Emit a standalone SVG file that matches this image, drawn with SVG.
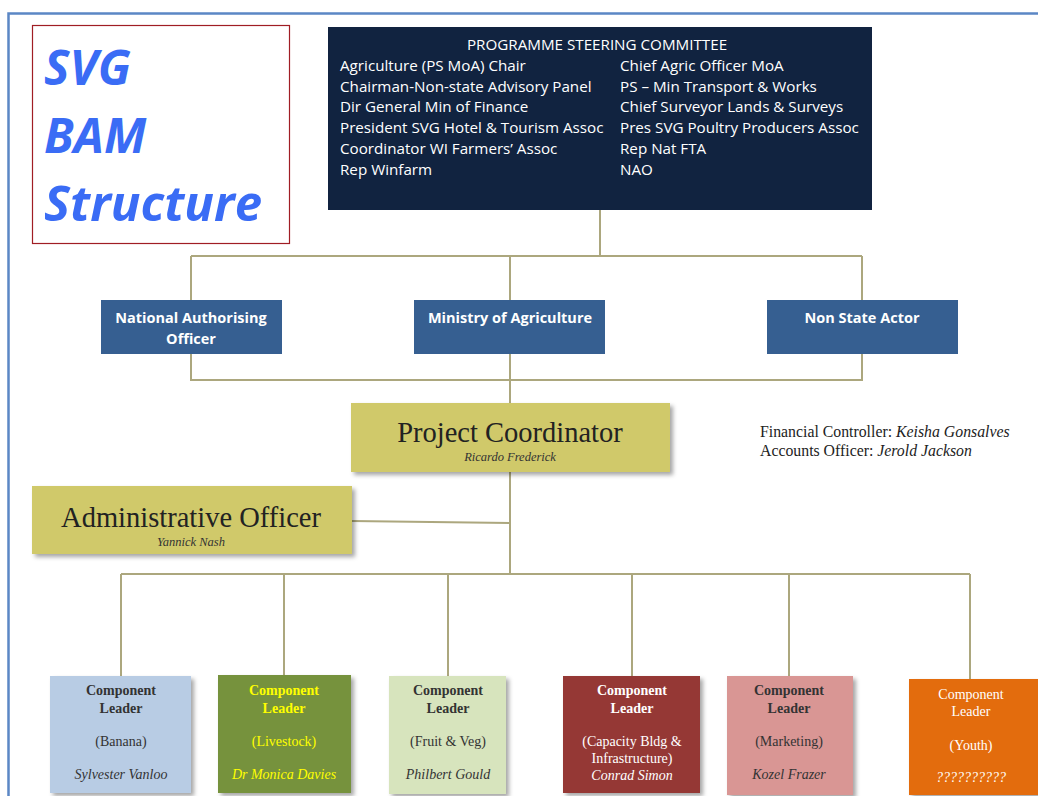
<svg xmlns="http://www.w3.org/2000/svg" width="1038" height="796" viewBox="0 0 1038 796">
<defs>
<filter id="sh" x="-10%" y="-10%" width="130%" height="140%">
<feDropShadow dx="3" dy="3" stdDeviation="2" flood-color="#000" flood-opacity="0.35"/>
</filter>
<style>
.ln{stroke:#aca77e;stroke-width:2;fill:none}
.psc{font-family:"Open Sans","Noto Sans",sans-serif;font-size:15.2px;fill:#fff}
.blue{fill:#365f91}
.bt{font-family:"Open Sans","Noto Sans",sans-serif;font-size:14.5px;font-weight:bold;fill:#fff;text-anchor:middle}
.big{font-family:"Liberation Serif",serif;font-size:28.5px;fill:#222;text-anchor:middle}
.sm{font-family:"Liberation Serif",serif;font-size:12.5px;font-style:italic;fill:#333;text-anchor:middle}
.cl{font-family:"Liberation Serif",serif;font-size:14px;text-anchor:middle}
.b{font-weight:bold}
.i{font-style:italic}
.fin{font-family:"Liberation Serif",serif;font-size:15.8px;fill:#222}
</style>
</defs>
<rect width="1038" height="796" fill="#fff"/>
<path d="M8.5 800 V13.5 H1040" fill="none" stroke="#5b87c5" stroke-width="2.5"/>

<g id="title">
<rect x="32.5" y="25.5" width="257" height="218" fill="#fff" stroke="#a01d24" stroke-width="1.2"/>
<g font-family="'Open Sans','Noto Sans',sans-serif" font-weight="bold" font-style="italic" fill="#3a6cf5" font-size="48">
<text x="44" y="85">SVG</text>
<text x="44" y="153">BAM</text>
<text x="44" y="221" textLength="218" lengthAdjust="spacingAndGlyphs">Structure</text>
</g>
</g>

<g id="connectors">
<path class="ln" d="M600 210 V256 M191 256 H862 M191 256 V300 M510 256 V300 M862 256 V300"/>
<path class="ln" d="M191 354 V380 H862 V354 M510 354 V403"/>
<path class="ln" d="M510 472 V574 M352 521 L510 523"/>
<path class="ln" d="M121 574 H970 M121 574 V676 M284 574 V675 M448 574 V676 M632 574 V676 M789 574 V676 M970 574 V679"/>
</g>

<g id="psc">
<rect x="328" y="27" width="544" height="183" fill="#112340"/>
<text class="psc" x="597" y="50" text-anchor="middle" font-size="15">PROGRAMME STEERING COMMITTEE</text>
<text class="psc" x="340" y="71">Agriculture (PS MoA) Chair</text>
<text class="psc" x="340" y="92">Chairman-Non-state Advisory Panel</text>
<text class="psc" x="340" y="112">Dir General Min of Finance</text>
<text class="psc" x="340" y="133">President SVG Hotel &amp; Tourism Assoc</text>
<text class="psc" x="340" y="154">Coordinator WI Farmers’ Assoc</text>
<text class="psc" x="340" y="175">Rep Winfarm</text>
<text class="psc" x="620" y="71">Chief Agric Officer MoA</text>
<text class="psc" x="620" y="92">PS – Min Transport &amp; Works</text>
<text class="psc" x="620" y="112">Chief Surveyor Lands &amp; Surveys</text>
<text class="psc" x="620" y="133">Pres SVG Poultry Producers Assoc</text>
<text class="psc" x="620" y="154">Rep Nat FTA</text>
<text class="psc" x="620" y="175">NAO</text>
</g>

<g id="nao">
<rect class="blue" x="101" y="300" width="181" height="54"/>
<text class="bt" x="191" y="323">National Authorising</text>
<text class="bt" x="191" y="344">Officer</text>
</g>
<g id="moa">
<rect class="blue" x="414" y="300" width="191" height="54"/>
<text class="bt" x="510" y="323">Ministry of Agriculture</text>
</g>
<g id="nsa">
<rect class="blue" x="767" y="300" width="191" height="54"/>
<text class="bt" x="862" y="323">Non State Actor</text>
</g>

<g id="pc">
<rect x="351" y="403" width="319" height="69" fill="#d0c96b" filter="url(#sh)"/>
<text class="big" x="510" y="442">Project Coordinator</text>
<text class="sm" x="510" y="461">Ricardo Frederick</text>
</g>

<g id="fin">
<text class="fin" x="760" y="437">Financial Controller: <tspan font-style="italic">Keisha Gonsalves</tspan></text>
<text class="fin" x="760" y="456">Accounts Officer: <tspan font-style="italic">Jerold Jackson</tspan></text>
</g>

<g id="ao">
<rect x="32" y="486" width="320" height="68" fill="#d0c96b" filter="url(#sh)"/>
<text class="big" x="191" y="527">Administrative Officer</text>
<text class="sm" x="191" y="546">Yannick Nash</text>
</g>

<g id="c1">
<rect x="50" y="676" width="141" height="117" fill="#b8cce4" filter="url(#sh)"/>
<g class="cl" fill="#333">
<text class="b" x="121" y="695">Component</text>
<text class="b" x="121" y="713">Leader</text>
<text x="121" y="746">(Banana)</text>
<text class="i" x="121" y="779">Sylvester Vanloo</text>
</g>
</g>
<g id="c2">
<rect x="218" y="675" width="133" height="118" fill="#76923c" filter="url(#sh)"/>
<g class="cl" fill="#ffff00">
<text class="b" x="284" y="695">Component</text>
<text class="b" x="284" y="713">Leader</text>
<text x="284" y="746">(Livestock)</text>
<text class="i" x="284" y="779">Dr Monica Davies</text>
</g>
</g>
<g id="c3">
<rect x="389" y="676" width="117" height="118" fill="#d7e4bd" filter="url(#sh)"/>
<g class="cl" fill="#333">
<text class="b" x="448" y="695">Component</text>
<text class="b" x="448" y="713">Leader</text>
<text x="448" y="746">(Fruit &amp; Veg)</text>
<text class="i" x="448" y="779">Philbert Gould</text>
</g>
</g>
<g id="c4">
<rect x="563" y="676" width="137" height="117" fill="#953735" filter="url(#sh)"/>
<g class="cl" fill="#fff">
<text class="b" x="632" y="695">Component</text>
<text class="b" x="632" y="713">Leader</text>
<text x="632" y="746">(Capacity Bldg &amp;</text>
<text x="632" y="763">Infrastructure)</text>
<text class="i" x="632" y="780">Conrad Simon</text>
</g>
</g>
<g id="c5">
<rect x="727" y="676" width="126" height="119" fill="#d99694" filter="url(#sh)"/>
<g class="cl" fill="#333">
<text class="b" x="789" y="695">Component</text>
<text class="b" x="789" y="713">Leader</text>
<text x="789" y="746">(Marketing)</text>
<text class="i" x="789" y="779">Kozel Frazer</text>
</g>
</g>
<g id="c6">
<rect x="909" y="679" width="135" height="116" fill="#e36c0a" filter="url(#sh)"/>
<g class="cl" fill="#fff">
<text x="971" y="699">Component</text>
<text x="971" y="716">Leader</text>
<text x="971" y="750">(Youth)</text>
<text class="i" x="971" y="782">??????????</text>
</g>
</g>
</svg>
